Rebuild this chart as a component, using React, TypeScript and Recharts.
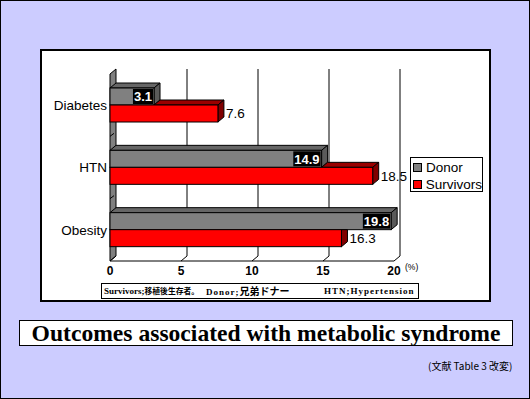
import React from "react";
import { BarChart, Bar, XAxis, YAxis, CartesianGrid, Legend, LabelList } from "recharts";

const categories = ["Diabetes", "HTN", "Obesity"];
const donorValues = [3.1, 14.9, 19.8];
const survivorValues = [7.6, 18.5, 16.3];
const xTicks = [0, 5, 10, 15, 20];

const data = categories.map((name, i) => ({
  name,
  donor: donorValues[i],
  survivors: survivorValues[i],
}));

// 3D depth of the bars / back wall
const DX = 6;
const DY = 5;
const SANS = "'Liberation Sans', Arial, sans-serif";
const SERIF = "'Liberation Serif', 'Times New Roman', serif";
const CJK = "'Noto Sans CJK JP', sans-serif";

const DonorBar = (props: any) => {
  const { x, y, width, height, fill } = props;
  const fx = x - DX;
  const fy = y + DY;
  return (
    <g>
      <polygon
        points={`${fx},${fy} ${fx + DX},${fy - DY} ${fx + width + DX},${fy - DY} ${fx + width},${fy}`}
        fill="#666666"
        stroke="#000"
      />
      <polygon
        points={`${fx + width},${fy} ${fx + width + DX},${fy - DY} ${fx + width + DX},${fy + height - DY} ${fx + width},${fy + height}`}
        fill="#5a5a5a"
        stroke="#000"
      />
      <rect x={fx} y={fy} width={width} height={height} fill={fill} stroke="#000" />
    </g>
  );
};

const SurvivorBar = (props: any) => {
  const { x, y, width, height, fill, payload } = props;
  const fx = x - DX;
  const fy = y + DY;
  // donor bar sits above and hides part of the top face
  const gw = (payload.donor * width) / payload.survivors;
  const top =
    width > gw ? (
      <polygon
        points={`${fx + gw},${fy} ${fx + gw + DX},${fy - DY} ${fx + width + DX},${fy - DY} ${fx + width},${fy}`}
        fill="#990000"
        stroke="#000"
      />
    ) : null;
  const side =
    width + DX < gw
      ? `${fx + width},${fy} ${fx + width + DX},${fy} ${fx + width + DX},${fy + height - DY} ${fx + width},${fy + height}`
      : `${fx + width},${fy} ${fx + width + DX},${fy - DY} ${fx + width + DX},${fy + height - DY} ${fx + width},${fy + height}`;
  return (
    <g>
      {top}
      <polygon points={side} fill="#800000" stroke="#000" />
      <rect x={fx} y={fy} width={width} height={height} fill={fill} stroke="#000" />
    </g>
  );
};

const DonorLabel = (props: any) => {
  const { x, y, width, height, value } = props;
  const s = String(value);
  const digits = s.replace(".", "").length;
  const dots = s.length - digits;
  const bw = (digits * 0.556 + dots * 0.278) * 13 + 2;
  const right = x - DX + width - 1;
  const fy = y + DY;
  return (
    <g>
      <rect x={right - bw} y={fy + 1} width={bw} height={height - 2} fill="#000" />
      <text
        x={right - bw / 2}
        y={fy + height / 2}
        dy="0.36em"
        textAnchor="middle"
        fill="#fff"
        fontFamily={SANS}
        fontWeight="bold"
        fontSize={13}
      >
        {s}
      </text>
    </g>
  );
};

const SurvivorLabel = (props: any) => {
  const { x, y, width, height, value } = props;
  return (
    <text
      x={x + width + 2}
      y={y + DY + height / 2}
      dy="0.36em"
      fill="#000"
      fontFamily={SANS}
      fontSize={13.5}
    >
      {value}
    </text>
  );
};

const GridLine = (props: any) => {
  const { x1, y1, y2, index } = props;
  const top = Math.min(y1, y2);
  const bottom = Math.max(y1, y2);
  if (index === 0) {
    // left side wall with band ticks
    const n = categories.length;
    const marks = [];
    for (let i = 1; i < n; i++) {
      const yb = top + ((bottom - top) * i) / n;
      marks.push(
        <line key={i} x1={x1 - DX} y1={yb + DY} x2={x1 - DX + 4} y2={yb + DY - 3} stroke="#000" />
      );
    }
    return (
      <g>
        <polygon
          points={`${x1},${top} ${x1},${bottom} ${x1 - DX},${bottom + DY} ${x1 - DX},${top + DY}`}
          fill="#808080"
          stroke="#000"
        />
        {marks}
      </g>
    );
  }
  return <line x1={x1} y1={top} x2={x1} y2={bottom} stroke="#000" />;
};

const XTick = (props: any) => {
  const { x, y, payload } = props;
  return (
    <g>
      <line x1={x} y1={y} x2={x - DX} y2={y + DY} stroke="#000" />
      <text
        x={x - DX}
        y={y + 19}
        textAnchor="middle"
        fontFamily={SANS}
        fontWeight="bold"
        fontSize={12}
        fill="#000"
      >
        {payload.value}
      </text>
      {payload.value === 20 && (
        <text x={x + 5} y={y + 14} fontFamily={SANS} fontSize={8.5} fill="#000">
          (%)
        </text>
      )}
    </g>
  );
};

const YTick = (props: any) => {
  const { x, y, payload } = props;
  return (
    <text
      x={x - 9}
      y={y + DY}
      dy="0.36em"
      textAnchor="end"
      fontFamily={SANS}
      fontSize={13.5}
      fill="#000"
    >
      {payload.value}
    </text>
  );
};

const LegendBox = (props: any) => {
  const { payload } = props;
  return (
    <div
      style={{
        width: 73,
        height: 35,
        boxSizing: "border-box",
        border: "1px solid #000",
        background: "#fff",
        paddingTop: 1,
        paddingLeft: 2,
        fontFamily: SANS,
        fontSize: 13.5,
        textAlign: "left",
      }}
    >
      {(payload || []).map((p: any) => (
        <div key={p.value} style={{ height: 17, display: "flex", alignItems: "center" }}>
          <span
            style={{
              width: 9,
              height: 9,
              boxSizing: "border-box",
              background: p.color,
              border: "1px solid #000",
              marginRight: 4,
            }}
          />
          <span>{p.value}</span>
        </div>
      ))}
    </div>
  );
};

export default function App() {
  return (
    <div
      style={{
        position: "absolute",
        left: 0,
        top: 0,
        width: 530,
        height: 399,
        boxSizing: "border-box",
        background: "#ccccff",
        border: "1px solid #000",
      }}
    >
      <div
        style={{
          position: "absolute",
          left: 39,
          top: 48,
          width: 451,
          height: 253,
          boxSizing: "border-box",
          background: "#fff",
          border: "2px solid #000",
        }}
      />
      <div style={{ position: "absolute", left: -1, top: -1 }}>
        <BarChart
          layout="vertical"
          width={530}
          height={300}
          data={data}
          margin={{ top: 69, right: 130, bottom: 14, left: 56 }}
          barSize={17}
          barGap={0}
        >
          <CartesianGrid horizontal={false} vertical={GridLine} />
          <XAxis
            type="number"
            domain={[0, 20]}
            ticks={xTicks}
            height={30}
            tickSize={0}
            tickMargin={0}
            tickLine={false}
            axisLine={{ stroke: "#000", transform: `translate(${-DX},${DY})` }}
            tick={XTick}
            interval={0}
          />
          <YAxis
            type="category"
            dataKey="name"
            width={60}
            tickSize={0}
            tickMargin={0}
            tickLine={false}
            axisLine={false}
            tick={YTick}
          />
          <Legend
            layout="vertical"
            align="center"
            verticalAlign="middle"
            wrapperStyle={{ left: 410, top: 157, width: 73 }}
            content={LegendBox}
          />
          <Bar dataKey="donor" name="Donor" fill="#808080" shape={DonorBar} isAnimationActive={false}>
            <LabelList dataKey="donor" content={DonorLabel} />
          </Bar>
          <Bar dataKey="survivors" name="Survivors" fill="#ff0000" shape={SurvivorBar} isAnimationActive={false}>
            <LabelList dataKey="survivors" content={SurvivorLabel} />
          </Bar>
        </BarChart>
      </div>
      <div
        style={{
          position: "absolute",
          left: 100,
          top: 282,
          width: 318,
          height: 16,
          boxSizing: "border-box",
          background: "#fff",
          border: "1px solid #000",
          fontFamily: SERIF,
          fontWeight: "bold",
          fontSize: 9,
          lineHeight: "14px",
          whiteSpace: "nowrap",
        }}
      >
        <span style={{ position: "absolute", left: 2 }}>
          Survivors;<span style={{ fontFamily: CJK, fontSize: 7.8 }}>移植後生存者。</span>
        </span>
        <span style={{ position: "absolute", left: 104 }}>
          <span style={{ letterSpacing: 1 }}>Donor;</span>
          <span style={{ fontFamily: CJK, fontSize: 10 }}>兄弟ドナー</span>
        </span>
        <span style={{ position: "absolute", left: 222, letterSpacing: 1 }}>HTN;Hypertension</span>
      </div>
      <div
        style={{
          position: "absolute",
          left: 18,
          top: 319,
          width: 494,
          height: 26,
          boxSizing: "border-box",
          background: "#fff",
          border: "1px solid #000",
          fontFamily: SERIF,
          fontWeight: "bold",
          fontSize: 23.6,
          lineHeight: "24px",
          textAlign: "center",
          whiteSpace: "nowrap",
        }}
      >
        Outcomes associated with metabolic syndrome
      </div>
      <div
        style={{
          position: "absolute",
          left: 427,
          top: 357,
          fontFamily: CJK,
          fontSize: 10,
          whiteSpace: "nowrap",
        }}
      >
        (文献 Table 3 改変)
      </div>
    </div>
  );
}
